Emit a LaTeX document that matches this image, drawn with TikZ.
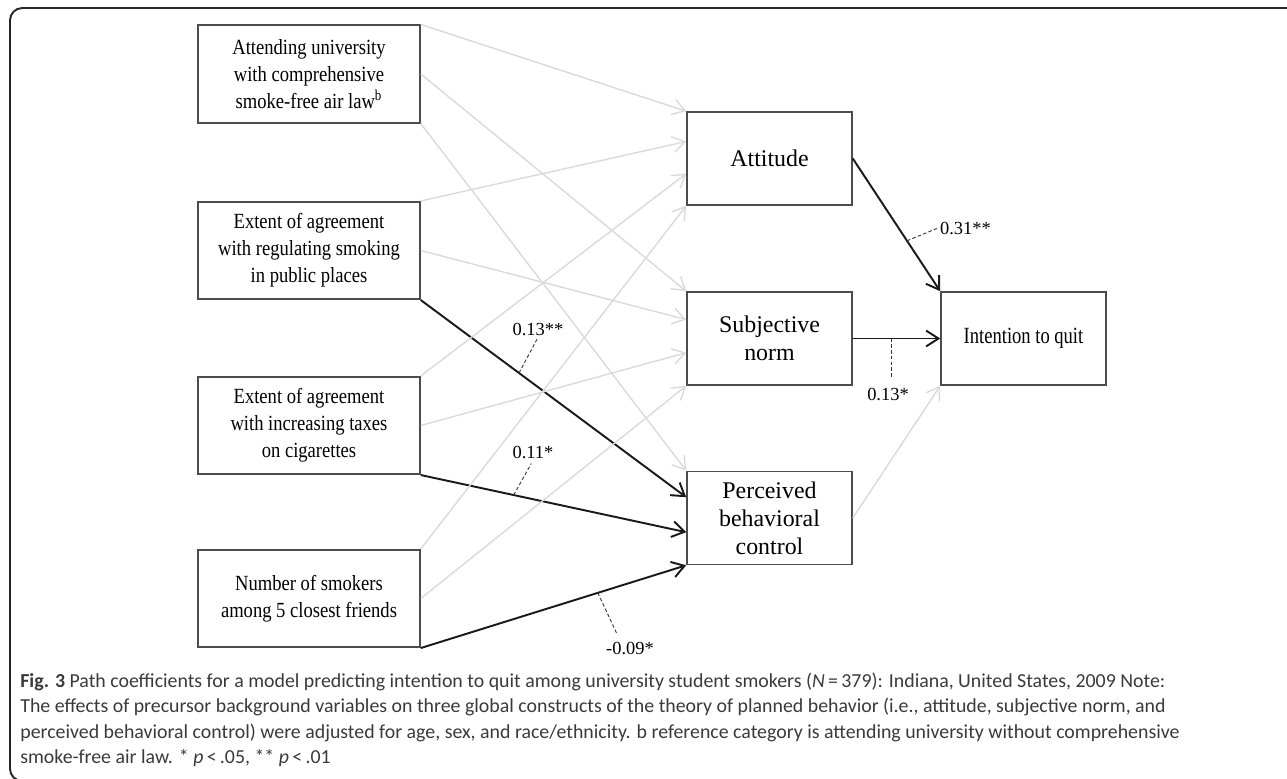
\documentclass[tikz,border=0pt]{standalone}
\usepackage{fontspec}
\setmainfont{Liberation Serif}
\newfontfamily\narrowserif[FakeStretch=0.86]{Liberation Serif}
\newfontfamily\quitfont[FakeStretch=0.8]{Liberation Serif}
\newfontfamily\capfont{Carlito}
\usepackage{xcolor}
\usepackage{tikz}
\usetikzlibrary{arrows.meta, positioning, calc}

\definecolor{faintgray}{HTML}{DADADA}
\definecolor{captext}{HTML}{3A3A3A}

\begin{document}
\begin{tikzpicture}[
    x=0.02cm, y=-0.02cm,
    frame/.style={draw=black!85, line width=1.1pt, rounded corners=7pt},
    factor/.style={rectangle, draw=black!70, line width=0.9pt, minimum width=4.44cm, minimum height=1.95cm, align=center, inner sep=2pt, font=\narrowserif\fontsize{12.3}{15.3}\selectfont},
    construct/.style={rectangle, draw=black!70, line width=0.9pt, minimum width=3.3cm, minimum height=1.86cm, align=center, font=\fontsize{13.6}{15.9}\selectfont},
    arrow/.style={-{Straight Barb[length=7pt, width=9pt]}, line width=1.1pt, draw=black!90},
    faint/.style={arrow, draw=faintgray, line width=0.8pt},
    leader/.style={draw=black!80, line width=0.5pt, dash pattern=on 2pt off 1.3pt},
    coef/.style={font=\fontsize{10.5}{12}\selectfont, inner sep=1pt},
    caption/.style={anchor=base west, inner sep=0pt, text=captext, font=\capfont\fontsize{11.3}{13}\selectfont}
]
\useasboundingbox (0,0) rectangle (1287,778);

% Frame
\draw[frame] (1287,8) -- (10,8) -- (10,781) -- (60,781);

% Background variables
\node[factor] (law) at (309,74) {Attending university\\with comprehensive\\smoke-free air law\textsuperscript{b}};
\node[factor] (regul) at (309,250.5) {Extent of agreement\\with regulating smoking\\in public places};
\node[factor] (taxes) at (309,425.5) {Extent of agreement\\with increasing taxes\\on cigarettes};
\node[factor] (friends) at (309,598.5) {Number of smokers\\among 5 closest friends};

% Global constructs
\node[construct] (att) at (769.5,158.5) {Attitude};
\node[construct] (norm) at (769.5,338.5) {Subjective\\norm};
\node[construct] (pbc) at (769.5,518) {Perceived\\behavioral\\control};
\node[construct, font=\quitfont\fontsize{13.2}{15}\selectfont] (quit) at (1023.5,338.5) {Intention to quit};

% Significant paths
\draw[arrow] (regul.south east) -- ($(pbc.north west)!0.28!(pbc.south west)$) coordinate[pos=0.37] (k2);
\draw[arrow] (taxes.south east) -- ($(pbc.north west)!0.65!(pbc.south west)$) coordinate[pos=0.35] (k4);
\draw[arrow] (friends.south east) -- (pbc.south west) coordinate[pos=0.667] (k5);
\draw[arrow] (att.east) -- (quit.north west) coordinate[pos=0.62] (k1);
\draw[arrow] (norm.east) -- (quit.west) coordinate[pos=0.44] (k3);

% Non-significant paths
\draw[faint] (law.north east) -- (att.north west);
\draw[faint] (law.east) -- (norm.north west);
\draw[faint] (law.south east) -- (pbc.north west);
\draw[faint] (regul.north east) -- ($(att.north west)!0.32!(att.south west)$);
\draw[faint] (regul.east) -- ($(norm.north west)!0.3!(norm.south west)$);
\draw[faint] (taxes.north east) -- ($(att.north west)!0.66!(att.south west)$);
\draw[faint] (taxes.east) -- ($(norm.north west)!0.65!(norm.south west)$);
\draw[faint] (friends.north east) -- (att.south west);
\draw[faint] (friends.east) -- (norm.south west);
\draw[faint] (pbc.east) -- (quit.south west);

% Coefficients
\node[coef, anchor=west] (c1) at (938,228) {0.31**};
\node[coef] (c2) at (538,329) {0.13**};
\node[coef] (c3) at (888,394) {0.13*};
\node[coef] (c4) at (533,452) {0.11*};
\node[coef] (c5) at (630,648) {-0.09*};
\draw[leader] (k1) -- (c1.west);
\draw[leader, shorten >=1pt] (k2) -- (c2.south);
\draw[leader, shorten >=5pt] (k3) -- (k3 |- c3.north);
\draw[leader, shorten >=2pt] (k4) -- (c4.south);
\draw[leader, shorten >=3pt] (k5) -- ($(c5.north west)!0.3!(c5.north east)$);

% Caption
\node[caption] (cap1) at (20,687) {\textbf{Fig. 3} Path coefficients for a model predicting intention to quit among university student smokers (\textit{N}\,=\,379): Indiana, United States, 2009 Note:};
\node[caption] (cap2) at (20,712) {The effects of precursor background variables on three global constructs of the theory of planned behavior (i.e., attitude, subjective norm, and};
\node[caption] (cap3) at (20,738) {perceived behavioral control) were adjusted for age, sex, and race/ethnicity. b reference category is attending university without comprehensive};
\node[caption] (cap4) at (20,763) {smoke-free air law. * \textit{p}\,<\,.05, ** \textit{p}\,<\,.01};

\end{tikzpicture}
\end{document}
